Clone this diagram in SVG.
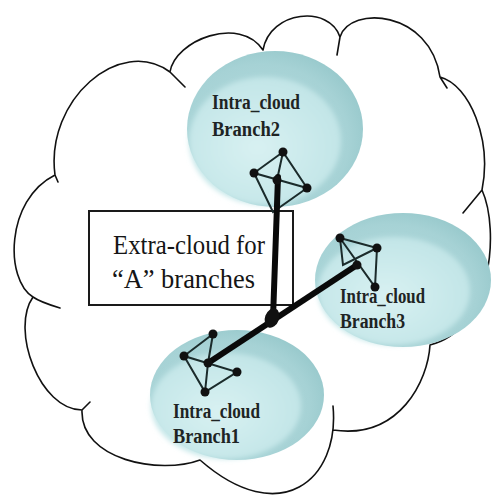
<svg xmlns="http://www.w3.org/2000/svg" width="492" height="497" viewBox="0 0 492 497">
<defs>
<radialGradient id="rim" cx="0.42" cy="0.58" r="0.62">
<stop offset="0" stop-color="#b9dfe1"/>
<stop offset="0.8" stop-color="#a6d2d5"/>
<stop offset="1" stop-color="#98c9cc"/>
</radialGradient>
<radialGradient id="inner" cx="0.45" cy="0.55" r="0.55">
<stop offset="0" stop-color="#d8f1f2"/>
<stop offset="1" stop-color="#c2e5e7"/>
</radialGradient>
<filter id="soft" x="-10%" y="-10%" width="120%" height="120%">
<feGaussianBlur stdDeviation="2.5"/>
</filter>
<style>
.cloud{fill:none;stroke:#111;stroke-width:1.6;stroke-linejoin:round;stroke-linecap:round}
.disk{fill:url(#rim)}
.disk-in{fill:url(#inner);filter:url(#soft)}
.lbl{font-family:"Liberation Serif","Times New Roman",serif;font-size:20px;font-weight:bold;fill:#1e2424}
.box{fill:#fff;stroke:#1a1a1a;stroke-width:2}
.boxtxt{font-family:"Liberation Serif","Times New Roman",serif;font-size:28px;fill:#151515}
.edge{stroke:#1b2b2b;stroke-width:2;fill:none;stroke-linecap:round}
.node{fill:#111}
.thick{stroke:#0a0a0a;stroke-width:6;fill:none;stroke-linecap:round}
</style>
</defs>
<rect width="492" height="497" fill="#fff"/>
<g id="cloud">
<path class="cloud" d="M60,308 Q40,302 33,297 C5,280 5,200 55,175 L58,182 M55,175 C45,100 120,35 170,72 L185,87 M170,72 C175,40 240,15 263,50 M263,50 C270,10 330,5 340,37 L337,55 M340,37 C350,5 430,10 440,77 L447,88 M440,77 C470,85 492,140 482,190 L463,213 M482,190 C500,230 492,330 430,345 M430,345 C428,380 400,440 333,430 M333,406 C340,480 280,530 200,460 M200,460 C160,475 80,460 82,410 L90,402 M82,410 C40,410 10,330 33,297"/>
</g>
<g id="branch2">
<ellipse class="disk" cx="275" cy="129" rx="88" ry="78"/>
<ellipse class="disk-in" cx="265" cy="141" rx="76" ry="64"/>
<text class="lbl" x="212" y="109" textLength="88" lengthAdjust="spacingAndGlyphs">Intra_cloud</text>
<text class="lbl" x="212" y="136" textLength="68" lengthAdjust="spacingAndGlyphs">Branch2</text>
</g>
<g id="branch3">
<ellipse class="disk" cx="403" cy="280" rx="88" ry="67"/>
<ellipse class="disk-in" cx="394" cy="291" rx="76" ry="54"/>
<text class="lbl" x="340" y="303" textLength="85" lengthAdjust="spacingAndGlyphs">Intra_cloud</text>
<text class="lbl" x="340" y="328" textLength="65" lengthAdjust="spacingAndGlyphs">Branch3</text>
</g>
<g id="branch1">
<ellipse class="disk" cx="237" cy="395" rx="87" ry="65"/>
<ellipse class="disk-in" cx="226" cy="406" rx="75" ry="53"/>
<text class="lbl" x="173" y="418" textLength="87" lengthAdjust="spacingAndGlyphs">Intra_cloud</text>
<text class="lbl" x="173" y="443" textLength="67" lengthAdjust="spacingAndGlyphs">Branch1</text>
</g>
<g id="extra-cloud">
<rect class="box" x="89" y="211" width="204" height="94"/>
<text class="boxtxt" x="113" y="254" textLength="152" lengthAdjust="spacingAndGlyphs">Extra-cloud for</text>
<text class="boxtxt" x="112" y="288" textLength="143" lengthAdjust="spacingAndGlyphs">“A” branches</text>
</g>
<g id="net2">
<path class="edge" d="M283,152 L254,173 L307,188 Z M283,152 L277,180 M254,173 L273,212 L307,188"/>
<circle class="node" cx="283" cy="152" r="4.5"/>
<circle class="node" cx="254" cy="173" r="4.5"/>
<circle class="node" cx="307" cy="188" r="4.5"/>
</g>
<g id="net3">
<path class="edge" d="M340,238 L377,248 L375,287 Z M377,248 L343,265 L340,238"/>
<circle class="node" cx="340" cy="238" r="4.5"/>
<circle class="node" cx="377" cy="248" r="4.5"/>
<circle class="node" cx="375" cy="287" r="4.5"/>
</g>
<g id="net1">
<path class="edge" d="M213,334 L184,356 L237,372 L205,392 L184,356 M213,334 L208,363 L205,392"/>
<circle class="node" cx="213" cy="334" r="4.5"/>
<circle class="node" cx="184" cy="356" r="4.5"/>
<circle class="node" cx="237" cy="372" r="4.5"/>
<circle class="node" cx="205" cy="392" r="4.5"/>
</g>
<g id="connectors">
<path class="thick" d="M278,177 L273,318"/>
<path class="thick" d="M208,363 L357,265"/>
<circle class="node" cx="277" cy="180" r="4.5"/>
<circle class="node" cx="208" cy="363" r="4.5"/>
<circle class="node" cx="357" cy="265" r="4.5"/>
<ellipse class="node" cx="272" cy="318" rx="7" ry="10" transform="rotate(20 272 318)"/>
</g>
</svg>
